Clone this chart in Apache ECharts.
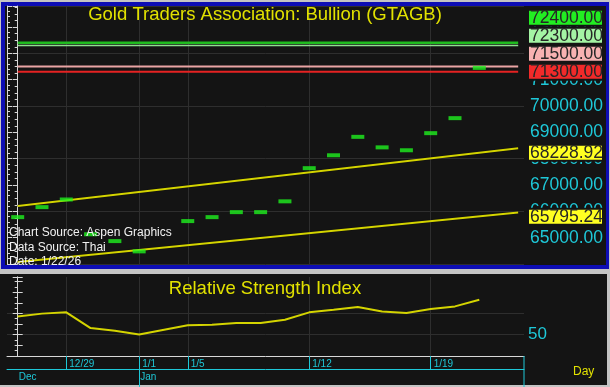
<!DOCTYPE html>
<html><head><meta charset="utf-8">
<script src="https://cdn.jsdelivr.net/npm/echarts@6/dist/echarts.min.js"></script>
<style>html,body{margin:0;padding:0;background:#c4c4c4;}#c{width:610px;height:387px;}</style>
</head><body><div id="c"></div>
<script>
// ---------- data ----------
const days = ['12/25','12/26','12/29','12/30','12/31','1/1','1/2','1/5','1/6','1/7','1/8','1/9','1/12','1/13','1/14','1/15','1/16','1/19','1/20','1/21'];
const price = [65780,66160,66450,65130,64870,64480,null,65630,65780,65970,65970,66380,67640,68130,68830,68430,68320,68970,69540,71450];
const rsi = [58.6,59.9,60.5,53.1,51.9,50.1,null,54.4,54.7,55.5,55.5,57.0,60.5,61.7,63.0,60.9,60.2,62.1,63.3,66.4];
const levelValues = [72400, 72300, 71500, 71300];
const trendX = [0, 20.6];
const upperTrend = [66200, 68400];
const lowerTrend = [64080, 65960];
const trendLabels = [68228.92, 65795.24];
const tickDays = ['12/29','1/1','1/5','1/12','1/19'];
const months = ['Dec','Jan'];
const monthStarts = ['12/25','1/1'];
const priceAxis = {min: 64000, max: 73800, step: 1000};
const rsiAxis = {min: 40, max: 77.1, step: 10};
const rsiLabelValues = [50];
const titleText = 'Gold Traders Association: Bullion (GTAGB)';
const rsiTitle = 'Relative Strength Index';
const sourceLines = ['Chart Source: Aspen Graphics', 'Data Source: Thai', 'Date: 1/22/26'];

// ---------- styles ----------
const FONT = '"Liberation Sans", Arial, sans-serif';
const CYAN = '#1ec8d8', YEL = '#e2e200', GRID = '#2e2e2e', AX = '#d8d8d8', BG = '#141414';
const levelColors = ['#1fbb1f', '#8fe08f', '#eaa4a4', '#e52222'];
const levelBoxColors = ['#22ee22', '#a4f4a4', '#f8b2b2', '#f22a2a'];
const levelWidths = [2.5, 1.5, 2, 2];

const tickIdx = tickDays.map(d => days.indexOf(d));
const monthIdx = monthStarts.map(d => days.indexOf(d));
const xMin = -0.44, xMax = 20.84;

const chart = echarts.init(document.getElementById('c'), null, {renderer: 'canvas', width: 610, height: 387});

const series = [];
levelValues.forEach((v, k) => series.push({
  type: 'line', xAxisIndex: 0, yAxisIndex: 0, symbol: 'none', silent: true, z: 2,
  data: [[trendX[0], v], [trendX[1], v]],
  lineStyle: {color: levelColors[k], width: levelWidths[k]}
}));
[upperTrend, lowerTrend].forEach(t => series.push({
  type: 'line', xAxisIndex: 0, yAxisIndex: 0, symbol: 'none', silent: true, z: 3,
  data: [[trendX[0], t[0]], [trendX[1], t[1]]],
  lineStyle: {color: '#d4d400', width: 2, shadowColor: '#000', shadowBlur: 1}
}));
series.push({
  type: 'scatter', xAxisIndex: 0, yAxisIndex: 0, symbol: 'rect', symbolSize: [13, 4], z: 4,
  itemStyle: {color: '#1ef01e'},
  data: price.map((v, i) => v == null ? null : [i, v]).filter(d => d)
});
series.push({
  type: 'line', xAxisIndex: 1, yAxisIndex: 2, symbol: 'none', connectNulls: true, z: 3,
  lineStyle: {color: '#d4d400', width: 2},
  data: rsi.map((v, i) => [i, v])
});

const option = {
  animation: false,
  backgroundColor: '#c4c4c4',
  grid: [
    {left: 7, top: 6, width: 517, height: 258},
    {left: 7, top: 277, width: 517, height: 79}
  ],
  xAxis: [
    {gridIndex: 0, type: 'value', min: xMin, max: xMax,
     axisLine: {show: false}, axisTick: {show: false, customValues: tickIdx},
     axisLabel: {show: false, customValues: tickIdx},
     splitLine: {show: true, lineStyle: {color: GRID, width: 1}}},
    {gridIndex: 1, type: 'value', min: xMin, max: xMax, position: 'bottom',
     axisLine: {show: true, onZero: false, lineStyle: {color: AX, width: 1}},
     axisTick: {show: true, customValues: tickIdx, length: 13, lineStyle: {color: CYAN, width: 1}},
     axisLabel: {show: true, customValues: tickIdx, formatter: v => days[Math.round(v)],
                 color: CYAN, fontSize: 10, fontFamily: FONT, align: 'left', margin: 3, padding: [0, 0, 0, 3]},
     splitLine: {show: true, lineStyle: {color: GRID, width: 1}}},
    {gridIndex: 1, type: 'value', min: xMin, max: xMax, position: 'bottom', offset: 13,
     axisLine: {show: true, onZero: false, lineStyle: {color: CYAN, width: 1}},
     axisTick: {show: true, customValues: monthIdx.slice(1), length: 18, lineStyle: {color: CYAN, width: 1}},
     axisLabel: {show: true, customValues: monthIdx, formatter: v => months[monthIdx.indexOf(Math.round(v))],
                 color: CYAN, fontSize: 10, fontFamily: FONT, align: 'left', margin: 3, padding: [0, 0, 0, 1]},
     splitLine: {show: false}}
  ],
  yAxis: [
    {gridIndex: 0, type: 'value', position: 'right', min: priceAxis.min, max: priceAxis.max, interval: priceAxis.step,
     axisLine: {show: true, lineStyle: {color: AX}},
     axisTick: {show: true, inside: true, length: 5, lineStyle: {color: AX}},
     minorTick: {show: true, splitNumber: 4, length: 3, lineStyle: {color: AX}},
     axisLabel: {color: CYAN, fontSize: 17.5, fontFamily: FONT, align: 'left', margin: 6,
                 showMinLabel: false, showMaxLabel: false, formatter: v => v.toFixed(2)},
     splitLine: {show: true, lineStyle: {color: [GRID, 'rgba(0,0,0,0)']}}},
    {gridIndex: 0, type: 'value', position: 'left', min: priceAxis.min, max: priceAxis.max, interval: priceAxis.step,
     axisLine: {show: true, lineStyle: {color: AX}},
     axisTick: {show: true, inside: true, length: 5, lineStyle: {color: AX}},
     minorTick: {show: true, splitNumber: 5, length: 3, lineStyle: {color: AX}},
     axisLabel: {show: false}, splitLine: {show: false}},
    {gridIndex: 1, type: 'value', position: 'right', min: rsiAxis.min, max: rsiAxis.max, interval: rsiAxis.step,
     axisLine: {show: true, lineStyle: {color: AX}},
     axisTick: {show: true, inside: true, length: 5, lineStyle: {color: AX}},
     minorTick: {show: true, splitNumber: 4, length: 3, lineStyle: {color: AX}},
     axisLabel: {customValues: rsiLabelValues, color: CYAN, fontSize: 17, fontFamily: FONT, align: 'left', margin: 4},
     splitLine: {show: true, lineStyle: {color: ['rgba(0,0,0,0)', GRID, GRID, 'rgba(0,0,0,0)', 'rgba(0,0,0,0)']}}},
    {gridIndex: 1, type: 'value', position: 'left', min: rsiAxis.min, max: rsiAxis.max, interval: 5,
     axisLine: {show: true, lineStyle: {color: AX}},
     axisTick: {show: true, inside: true, length: 5, lineStyle: {color: AX}},
     axisLabel: {show: false}, splitLine: {show: false}}
  ],
  series: series
};
chart.setOption(option);

// ---------- panels, texts, value boxes ----------
const g = [];
g.push({type: 'rect', z: -100, shape: {x: 1, y: 2, width: 608, height: 267}, style: {fill: '#0d0db4'}});
g.push({type: 'rect', z: -99, shape: {x: 5, y: 6, width: 601, height: 259}, style: {fill: BG}});
g.push({type: 'rect', z: -99, shape: {x: 0, y: 274, width: 607, height: 111}, style: {fill: BG}});

g.push({type: 'text', z: 100, style: {text: titleText, x: 265, y: 15, align: 'center', verticalAlign: 'middle',
  font: '18.5px ' + FONT, fill: YEL}});
g.push({type: 'text', z: 100, style: {text: rsiTitle, x: 265, y: 289, align: 'center', verticalAlign: 'middle',
  font: '18.5px ' + FONT, fill: YEL}});
sourceLines.forEach((t, k) => g.push({type: 'text', z: 100, style: {text: t, x: 9, y: 233 + k * 14.5,
  verticalAlign: 'middle', font: '12px ' + FONT, fill: '#f2f2f2'}}));
g.push({type: 'text', z: 100, style: {text: 'Day', x: 573, y: 372, verticalAlign: 'middle',
  font: '12px ' + FONT, fill: YEL}});
// right vertical closing line of the date axis
const xr = chart.convertToPixel({xAxisIndex: 1}, xMax);
g.push({type: 'line', z: 100, shape: {x1: xr, y1: 356, x2: xr, y2: 387}, style: {stroke: CYAN, lineWidth: 1}});

function box(v, cy, fill) {
  g.push({type: 'rect', z: 110, shape: {x: 528, y: cy - 8, width: 75, height: 16},
    style: {fill: fill, stroke: BG, lineWidth: 2}});
  g.push({type: 'text', z: 111, style: {text: v.toFixed(2), x: 530, y: cy + 0.5, verticalAlign: 'middle',
    font: '17.5px ' + FONT, fill: '#262626'}});
}
// stack level boxes upward to avoid overlap
const order = levelValues.map((v, k) => k).sort((a, b) => levelValues[a] - levelValues[b]);
let prev = Infinity;
order.forEach(k => {
  const y = Math.min(chart.convertToPixel({yAxisIndex: 0}, levelValues[k]), prev - 18);
  prev = y;
  box(levelValues[k], y, levelBoxColors[k]);
});
trendLabels.forEach(v => box(v, chart.convertToPixel({yAxisIndex: 0}, v), '#ffff22'));

chart.setOption({graphic: {elements: g}});
</script></body></html>
